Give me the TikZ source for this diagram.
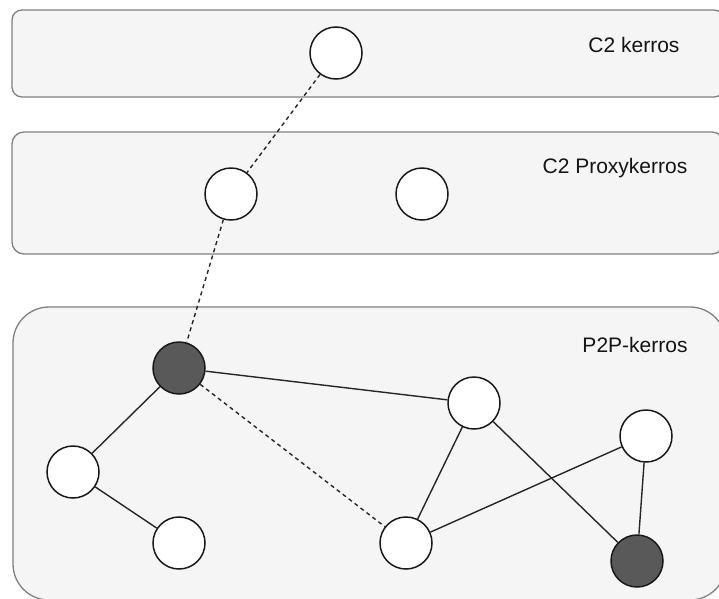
\documentclass[tikz,border=0pt]{standalone}
\usepackage{fontspec}
\setmainfont{Liberation Sans}
\begin{document}
\begin{tikzpicture}[x=1pt,y=-1pt,
  layer/.style={draw=black!50,fill=black!4,line width=1.3pt},
  peer/.style={circle,draw=black!90,fill=white,line width=1.5pt,minimum size=52pt,inner sep=0pt},
  darkpeer/.style={peer,fill=black!65},
  link/.style={draw=black!85,line width=1.4pt},
  weak/.style={link,dash pattern=on 4pt off 3.5pt},
  caption/.style={font=\fontsize{21}{25}\selectfont,text=black!92,inner sep=0pt}]
\useasboundingbox (0,0) rectangle (719,598);
\clip (0,0) rectangle (719,598);

% the three layers
\draw[layer,rounded corners=10pt] (12,10) rectangle (724,97);
\draw[layer,rounded corners=12pt] (12,132) rectangle (724,254);
\draw[layer,rounded corners=36pt] (13,307) rectangle (726,600);

\node[caption] (t1) at (634,45) {C2 kerros};
\node[caption] (t2) at (615,168) {C2 Proxykerros};
\node[caption] (t3) at (635,345) {P2P-kerros};

% peers
\node[peer] (c2) at (336,53) {};
\node[peer] (px1) at (231,194) {};
\node[peer] (px2) at (422,194) {};
\node[darkpeer] (d1) at (179,368) {};
\node[peer] (a) at (474,403) {};
\node[peer] (b) at (646,436) {};
\node[peer] (c) at (73,472) {};
\node[peer] (d) at (179,543) {};
\node[peer] (e) at (406,543) {};
\node[darkpeer] (d2) at (637,561) {};

% connections
\draw[weak] (c2) -- (px1);
\draw[weak] (px1) -- (d1);
\draw[weak] (d1) -- (e);
\draw[link] (d1) -- (a);
\draw[link] (d1) -- (c);
\draw[link] (c) -- (d);
\draw[link] (a) -- (e);
\draw[link] (a) -- (d2);
\draw[link] (e) -- (b);
\draw[link] (b) -- (d2);
\end{tikzpicture}
\end{document}
